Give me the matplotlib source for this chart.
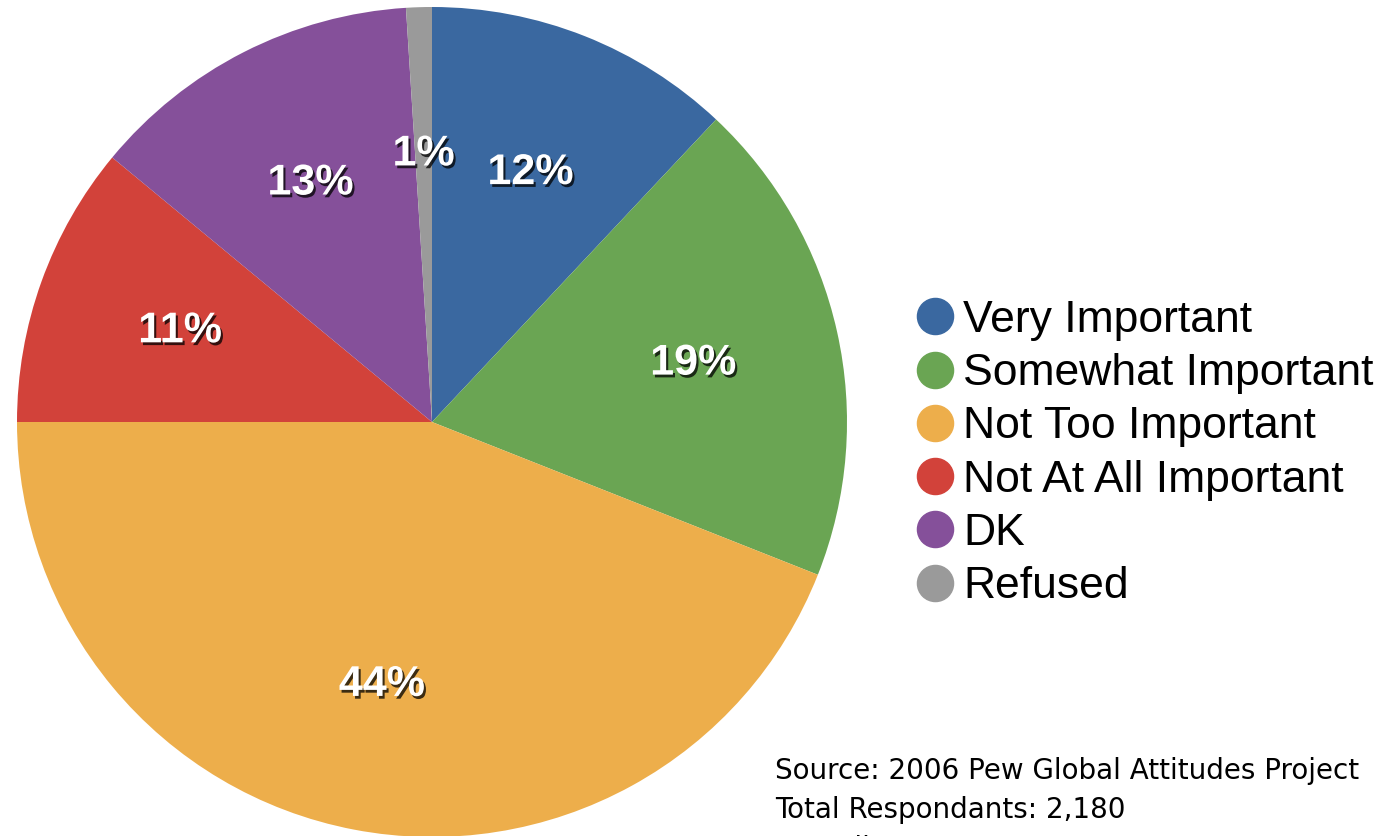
import matplotlib
matplotlib.use("Agg")
import matplotlib.pyplot as plt
import matplotlib.patheffects as pe
from matplotlib.lines import Line2D

# survey answers, clockwise from 12 o'clock
categories = ["Very Important", "Somewhat Important", "Not Too Important",
              "Not At All Important", "DK", "Refused"]
shares = [12, 19, 44, 11, 13, 1]
colors = ["#3a68a0", "#6aa553", "#edae4b", "#d2423a", "#85509a", "#9a9a9a"]
source_lines = ["Source: 2006 Pew Global Attitudes Project",
                "Total Respondants: 2,180",
                "Sampling Error: +/- 2.0%"]

W, H = 1380, 836
fig = plt.figure(figsize=(W / 100, H / 100), dpi=100)
fig.patch.set_facecolor("white")

cx, cy, r = 432, 422, 415
ax = fig.add_axes([(cx - r) / W, (H - cy - r) / H, 2 * r / W, 2 * r / H])

wedges, texts, autotexts = ax.pie(
    shares, colors=colors, startangle=90, counterclock=False,
    autopct="%d%%", pctdistance=0.645,
    wedgeprops=dict(linewidth=0),
)
ax.set_xlim(-1, 1)
ax.set_ylim(-1, 1)
ax.set_aspect("equal")
ax.axis("off")

shadow = [pe.withSimplePatchShadow(offset=(1.5, -2), shadow_rgbFace="black", alpha=0.75)]
for t in autotexts:
    t.set_color("white")
    t.set_fontsize(31)
    t.set_fontweight("bold")
    t.set_fontfamily("Liberation Sans")
    t.set_path_effects(shadow)

handles = [Line2D([], [], linestyle="none", marker="o", markersize=26,
                  markerfacecolor=c, markeredgecolor=c) for c in colors]
fig.legend(handles, categories, loc="upper left",
           bbox_to_anchor=(914 / W, 1 - 300 / H), frameon=False,
           prop=dict(family="Liberation Sans", size=32),
           handlelength=0.95, handletextpad=0.15, labelspacing=0.275,
           borderpad=0, borderaxespad=0)

for i, line in enumerate(source_lines):
    fig.text(775 / W, 1 - (771 + 39 * i) / H, line, fontsize=20,
             family="DejaVu Sans", va="center", ha="left", color="black")

fig.savefig("out.png", dpi=100)
